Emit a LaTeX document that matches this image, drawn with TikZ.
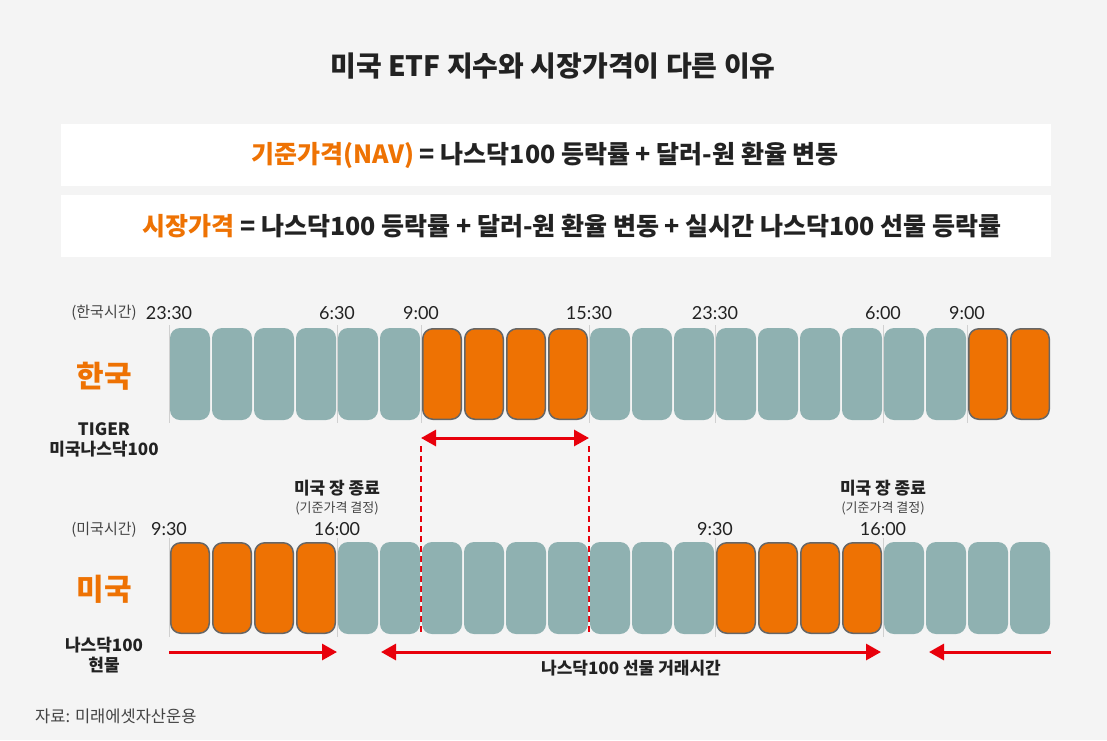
\documentclass[tikz,border=0pt]{standalone}
\usepackage{fontspec}
\setmainfont{Noto Sans CJK KR}
\newfontfamily\latofont{Lato}
\usetikzlibrary{arrows.meta}
\definecolor{etfbg}{HTML}{F4F4F4}
\definecolor{etfteal}{HTML}{8FB1B1}
\definecolor{etforange}{HTML}{EE7203}
\definecolor{etfred}{HTML}{E8000B}
\definecolor{etfedge}{HTML}{666666}
\definecolor{etftext}{HTML}{222222}
\definecolor{etfgray}{HTML}{444444}
\definecolor{etftick}{HTML}{D0D0D0}
\tikzset{
  slot/.style={rounded corners=10pt, inner sep=0pt},
  tealslot/.style={slot, fill=etfteal, minimum width=40pt, minimum height=92pt},
  orangeslot/.style={slot, fill=etforange, draw=etfedge, line width=1.5pt,
    minimum width=38.5pt, minimum height=90.5pt},
  timelbl/.style={font=\latofont\fontsize{18}{21}\selectfont, text=etftext, inner sep=0pt},
  zonelbl/.style={font=\fontsize{15}{18}\selectfont, text=etfgray, inner sep=0pt},
  rowlbl/.style={font=\bfseries\fontsize{30}{34}\selectfont, text=etforange, inner sep=0pt},
  sublbl/.style={font=\bfseries\fontsize{17}{20}\selectfont, text=etftext, inner sep=0pt},
  notelbl/.style={font=\fontsize{13}{16}\selectfont, text=etfgray, inner sep=0pt},
  tick/.style={draw=etftick, line width=1pt},
  redarrow/.style={draw=etfred, line width=3pt},
  reddash/.style={draw=etfred, line width=2pt, dash pattern=on 6pt off 4pt}
}

\begin{document}
\begin{tikzpicture}[x=1pt, y=-1pt, >={Triangle[length=15pt, width=16pt]}]

% === Fondo ===
\fill[etfbg] (0,0) rectangle (1107,740);
\useasboundingbox (0,0) rectangle (1107,740);

% === Titulo ===
\node[font=\bfseries\fontsize{28}{33}\selectfont, text=etftext] (title) at (553,66)
  {미국 ETF 지수와 시장가격이 다른 이유};

% === Formulas ===
\node[fill=white, minimum width=990pt, minimum height=62pt] (navbox) at (556,155) {};
\node[fill=white, minimum width=990pt, minimum height=62pt] (mktbox) at (556,226) {};
\node[font=\bfseries\fontsize{25}{29}\selectfont, text=etftext] (navtxt) at (545,155)
  {\textcolor{etforange}{기준가격(NAV)} = 나스닥100 등락률 + 달러-원 환율 변동};
\node[font=\bfseries\fontsize{25}{29}\selectfont, text=etftext] (mkttxt) at (572,226)
  {\textcolor{etforange}{시장가격} = 나스닥100 등락률 + 달러-원 환율 변동 + 실시간 나스닥100 선물 등락률};

% === Fila Korea ===
\foreach \t in {0,4,6,10,13,17,19}
  \draw[tick] (169+42*\t,325) -- (169+42*\t,423);
\foreach \i in {0,...,20}{
  \def\sty{tealslot}
  \ifnum\i>5 \ifnum\i<10 \def\sty{orangeslot}\fi\fi
  \ifnum\i>18 \def\sty{orangeslot}\fi
  \node[\sty] (k\i) at (190+42*\i,374) {};
}
\foreach \t/\lbl in {0/23:30, 4/6:30, 6/9:00, 10/15:30, 13/23:30, 17/6:00, 19/9:00}
  \node[timelbl] (kt\t) at (169+42*\t,313) {\lbl};
\node[zonelbl] (kzone) at (104,313) {(한국시간)};
\node[rowlbl] (krow) at (104,376) {한국};
\node[sublbl, align=center, font=\bfseries\fontsize{17}{20}\selectfont] (tiger) at (104,440)
  {TIGER\\미국나스닥100};

% === Horario de NAV ===
\coordinate (navL) at (421,438);
\coordinate (navR) at (589,438);
\draw[redarrow, <->] (navL) -- (navR);
\coordinate (dashLa) at (421,446);
\coordinate (dashLb) at (421,632);
\coordinate (dashRa) at (589,446);
\coordinate (dashRb) at (589,632);
\draw[reddash] (dashLa) -- (dashLb);
\draw[reddash] (dashRa) -- (dashRb);

% === Fila EE.UU. ===
\foreach \t in {0,4,13,17}
  \draw[tick] (169+42*\t,538) -- (169+42*\t,637);
\foreach \i in {0,...,20}{
  \def\sty{tealslot}
  \ifnum\i<4 \def\sty{orangeslot}\fi
  \ifnum\i>12 \ifnum\i<17 \def\sty{orangeslot}\fi\fi
  \node[\sty] (u\i) at (190+42*\i,588) {};
}
\foreach \t/\lbl in {0/9:30, 4/16:00, 13/9:30, 17/16:00}
  \node[timelbl] (ut\t) at (169+42*\t,529) {\lbl};
\foreach \t in {4,17}{
  \node[sublbl] (close\t) at (169+42*\t,488) {미국 장 종료};
  \node[notelbl] (fix\t) at (169+42*\t,508) {(기준가격 결정)};
}
\node[zonelbl] (uzone) at (104,530) {(미국시간)};
\node[rowlbl] (urow) at (104,589) {미국};
\node[sublbl, align=center, font=\bfseries\fontsize{17}{20}\selectfont] (spot) at (104,655)
  {나스닥100\\현물};

% === Horario de futuros ===
\coordinate (spotL) at (169,652);
\coordinate (spotR) at (337,652);
\coordinate (futL) at (381,652);
\coordinate (futR) at (881,652);
\coordinate (nextL) at (929,652);
\coordinate (nextR) at (1051,652);
\draw[redarrow, ->] (spotL) -- (spotR);
\draw[redarrow, <->] (futL) -- (futR);
\draw[redarrow, ->] (nextR) -- (nextL);
\node[sublbl] (futlbl) at (631,668) {나스닥100 선물 거래시간};

% === Fuente ===
\node[font=\fontsize{16.5}{19}\selectfont, text=etfgray, anchor=west, inner sep=0pt] (src) at (35,716)
  {자료: 미래에셋자산운용};

\end{tikzpicture}
\end{document}
